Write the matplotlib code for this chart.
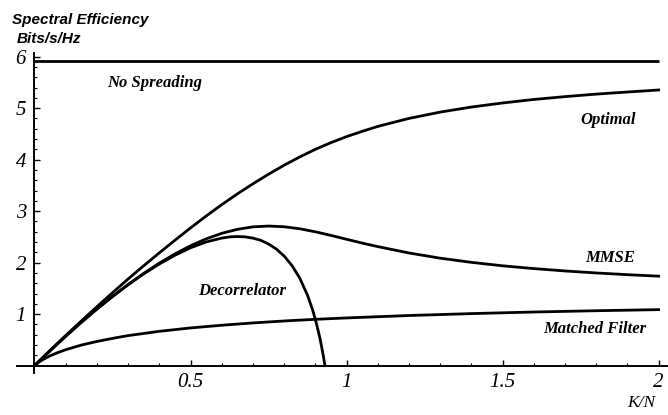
import matplotlib
matplotlib.use("Agg")
import matplotlib.pyplot as plt
from matplotlib.ticker import FixedLocator

# Spectral efficiency (bits/s/Hz) versus load K/N
load_main = [0.0, 0.05, 0.1, 0.15, 0.2, 0.25, 0.3, 0.35, 0.4, 0.45, 0.5,
             0.55, 0.6, 0.65, 0.7, 0.75, 0.8, 0.85, 0.9, 0.95, 1.0,
             1.05, 1.1, 1.2, 1.3, 1.4, 1.5, 1.6, 1.7, 1.8, 1.9, 2.0]
optimal = [0.0, 0.296, 0.586, 0.867, 1.144, 1.416, 1.683, 1.940, 2.190, 2.435, 2.674,
           2.905, 3.126, 3.334, 3.531, 3.717, 3.892, 4.052, 4.200, 4.330, 4.447,
           4.549, 4.645, 4.800, 4.923, 5.021, 5.100, 5.168, 5.223, 5.272, 5.313, 5.352]
mmse = [0.0, 0.291, 0.572, 0.842, 1.100, 1.346, 1.577, 1.792, 1.991, 2.170, 2.328,
        2.462, 2.569, 2.647, 2.695, 2.711, 2.697, 2.658, 2.599, 2.529, 2.454,
        2.380, 2.312, 2.188, 2.087, 2.006, 1.939, 1.885, 1.839, 1.800, 1.767, 1.738]

load_decorr = [0.0, 0.05, 0.1, 0.15, 0.2, 0.25, 0.3, 0.35, 0.4, 0.45, 0.5,
               0.55, 0.6, 0.625, 0.65, 0.675, 0.7, 0.725, 0.75, 0.775, 0.8,
               0.825, 0.85, 0.875, 0.89, 0.9, 0.91, 0.915, 0.92, 0.925, 0.928, 0.931]
decorrelator = [0.0, 0.290, 0.571, 0.840, 1.098, 1.341, 1.570, 1.782, 1.974, 2.143, 2.289,
                2.402, 2.477, 2.500, 2.507, 2.501, 2.476, 2.434, 2.362, 2.265, 2.128,
                1.945, 1.700, 1.366, 1.106, 0.900, 0.655, 0.522, 0.371, 0.210, 0.100, 0.0]

load_mf = [0.0, 0.005, 0.01, 0.02, 0.03, 0.05, 0.075, 0.1, 0.15, 0.2, 0.25, 0.3,
           0.4, 0.5, 0.6, 0.7, 0.8, 0.9, 1.0, 1.2, 1.4, 1.6, 1.8, 2.0]
matched_filter = [0.0, 0.027, 0.051, 0.093, 0.129, 0.191, 0.255, 0.310, 0.400, 0.470, 0.530, 0.584,
                  0.667, 0.733, 0.785, 0.830, 0.868, 0.900, 0.927, 0.974, 1.011, 1.042, 1.067, 1.088]

load_nospread = [0.0, 2.0]
no_spreading = [5.91, 5.91]

x_ticks = [0.5, 1.0, 1.5, 2.0]
x_tick_labels = ["0.5", "1", "1.5", "2"]
y_ticks = [1, 2, 3, 4, 5, 6]
y_tick_labels = ["1", "2", "3", "4", "5", "6"]

curve_labels = {
    "No Spreading": (0.232, 5.41),
    "Optimal": (1.748, 4.69),
    "MMSE": (1.764, 2.01),
    "Decorrelator": (0.524, 1.373),
    "Matched Filter": (1.63, 0.635),
}

fig = plt.figure(figsize=(6.68, 4.15), dpi=100)
ax = fig.add_axes([0.02545, 0.10120, 0.97455, 0.77108])
ax.set_xlim(-0.056, 2.030)
ax.set_ylim(-0.142, 6.07)

lw = 2.0
ax.plot(load_nospread, no_spreading, color="black", lw=lw, solid_capstyle="butt")
ax.plot(load_main, optimal, color="black", lw=lw)
ax.plot(load_main, mmse, color="black", lw=lw)
ax.plot(load_decorr, decorrelator, color="black", lw=lw)
ax.plot(load_mf, matched_filter, color="black", lw=lw)

# Axes crossing at the origin
for side in ("top", "right"):
    ax.spines[side].set_visible(False)
for side in ("left", "bottom"):
    ax.spines[side].set_position(("data", 0))
    ax.spines[side].set_linewidth(1.4)

tick_font = dict(fontfamily="Liberation Serif", fontstyle="italic", fontsize=15)
ax.set_xticks(x_ticks, x_tick_labels, **tick_font)
ax.set_yticks(y_ticks, y_tick_labels, **tick_font)
x_minor = [round(0.1 * i, 2) for i in range(1, 20) if i % 5 != 0]
y_minor = [round(0.2 * i, 2) for i in range(1, 30) if i % 5 != 0]
ax.xaxis.set_minor_locator(FixedLocator(x_minor))
ax.yaxis.set_minor_locator(FixedLocator(y_minor))
ax.tick_params(which="major", direction="in", length=4, width=1.0)
ax.tick_params(which="minor", direction="in", length=2.5, width=0.8)
ax.tick_params(axis="x", which="major", pad=5)
ax.tick_params(axis="y", which="major", pad=6)

for text, (tx, ty) in curve_labels.items():
    ax.text(tx, ty, text, fontfamily="Liberation Serif", fontstyle="italic",
            fontweight="bold", fontsize=12, ha="left", va="baseline")

title_font = dict(fontfamily="Liberation Sans", fontweight="bold", fontstyle="italic",
                  fontsize=11, ha="left", va="baseline")
fig.text(12 / 668, 1 - 24 / 415, "Spectral Efficiency", **title_font)
fig.text(17 / 668, 1 - 43 / 415, "Bits/s/Hz", **title_font)
fig.text(641 / 668, 1 - 407 / 415, "K/N", fontfamily="Liberation Serif",
         fontstyle="italic", fontsize=12.5, ha="center", va="baseline")

fig.savefig("out.png", dpi=100)
